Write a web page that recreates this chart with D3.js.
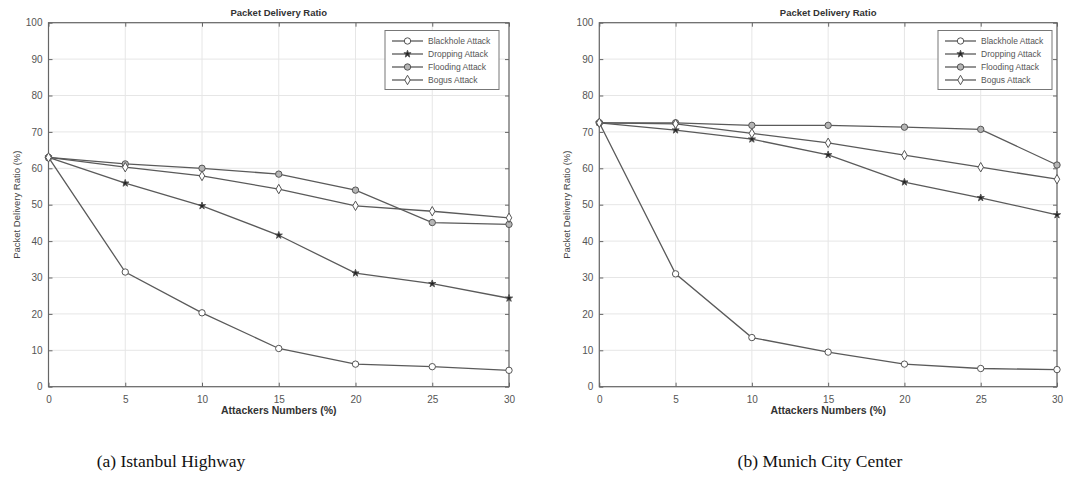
<!DOCTYPE html>
<html>
<head>
<meta charset="utf-8">
<script src="https://cdn.jsdelivr.net/npm/d3@7"></script>
<style>
  body { margin: 0; background: #fff; }
  svg { display: block; }
</style>
</head>
<body>
<svg id="chart" width="1065" height="485"></svg>
<script>
// ---- data ----
const attackers = [0, 5, 10, 15, 20, 25, 30];
const xTicks = [0, 5, 10, 15, 20, 25, 30];
const yTicks = [0, 10, 20, 30, 40, 50, 60, 70, 80, 90, 100];
const seriesNames = ["Blackhole Attack", "Dropping Attack", "Flooding Attack", "Bogus Attack"];

// (a) Istanbul Highway
const istanbulBlackhole = [63, 31.5, 20.3, 10.5, 6.2, 5.5, 4.5];
const istanbulDropping  = [63, 55.9, 49.7, 41.6, 31.2, 28.3, 24.3];
const istanbulFlooding  = [63, 61.2, 60.0, 58.4, 54.0, 45.1, 44.6];
const istanbulBogus     = [63, 60.3, 57.9, 54.3, 49.7, 48.2, 46.4];

// (b) Munich City Center
const munichBlackhole = [72.5, 31, 13.5, 9.5, 6.2, 5.0, 4.7];
const munichDropping  = [72.5, 70.5, 68.0, 63.7, 56.2, 51.9, 47.2];
const munichFlooding  = [72.5, 72.5, 71.8, 71.8, 71.3, 70.7, 60.9];
const munichBogus     = [72.5, 72.2, 69.6, 67.0, 63.6, 60.3, 57.0];

const chartTitle = "Packet Delivery Ratio";
const xLabel = "Attackers Numbers (%)";
const yLabel = "Packet Delivery Ratio (%)";
const captions = ["(a) Istanbul Highway", "(b) Munich City Center"];

// ---- drawing ----
const svg = d3.select("#chart");
const lineColor = "#5a5a5a";
const markerStyles = [
  { type: d3.symbolCircle, size: 32, fill: "#fff" },
  { type: d3.symbolStar, size: 16, fill: "#222" },
  { type: d3.symbolCircle, size: 32, fill: "#b5b5b5" },
  { type: d3.symbolDiamond, size: 26, fill: "#fff" }
];

function drawPanel(cfg) {
  const x = d3.scaleLinear().domain([0, 30]).range([cfg.x0, cfg.x1]);
  const y = d3.scaleLinear().domain([0, 100]).range([386.7, 22.7]);
  const g = svg.append("g");

  // grid
  g.append("g").selectAll("line").data(xTicks).join("line")
    .attr("x1", d => x(d)).attr("x2", d => x(d))
    .attr("y1", y(0)).attr("y2", y(100))
    .attr("stroke", "#e6e6e6").attr("stroke-width", 1);
  g.append("g").selectAll("line").data(yTicks).join("line")
    .attr("x1", x(0)).attr("x2", x(30))
    .attr("y1", d => y(d)).attr("y2", d => y(d))
    .attr("stroke", "#e6e6e6").attr("stroke-width", 1);

  // axes
  const axStyle = sel => {
    sel.select(".domain").remove();
    sel.selectAll("line").attr("stroke", "#666");
    sel.selectAll("text").attr("fill", "#555")
      .style("font-family", "Liberation Sans, Arial, sans-serif").style("font-size", "10px");
  };
  g.append("g").attr("transform", `translate(0,${y(0)})`)
    .call(d3.axisBottom(x).tickValues(xTicks).tickSize(-4).tickPadding(9))
    .call(axStyle);
  g.append("g").attr("transform", `translate(0,${y(100)})`)
    .call(d3.axisTop(x).tickValues(xTicks).tickSize(-4).tickFormat(""))
    .call(axStyle);
  g.append("g").attr("transform", `translate(${x(0)},0)`)
    .call(d3.axisLeft(y).tickValues(yTicks).tickSize(-4).tickPadding(6))
    .call(axStyle);
  g.append("g").attr("transform", `translate(${x(30)},0)`)
    .call(d3.axisRight(y).tickValues(yTicks).tickSize(-4).tickFormat(""))
    .call(axStyle);

  g.append("rect")
    .attr("x", x(0)).attr("y", y(100))
    .attr("width", x(30) - x(0)).attr("height", y(0) - y(100))
    .attr("fill", "none").attr("stroke", "#666").attr("stroke-width", 1.2);

  // lines
  const line = d3.line().x((d, i) => x(attackers[i])).y(d => y(d));
  cfg.series.forEach((vals, si) => {
    g.append("path").datum(vals)
      .attr("d", line).attr("fill", "none")
      .attr("stroke", lineColor).attr("stroke-width", 1.3);
  });
  cfg.series.forEach((vals, si) => {
    const m = markerStyles[si];
    g.append("g").selectAll("path").data(vals).join("path")
      .attr("transform", (d, i) => `translate(${x(attackers[i])},${y(d)})`)
      .attr("d", d3.symbol().type(m.type).size(m.size))
      .attr("fill", m.fill).attr("stroke", "#555").attr("stroke-width", 1);
  });

  // titles
  const cx = (x(0) + x(30)) / 2;
  g.append("text").attr("x", cx).attr("y", 16)
    .attr("text-anchor", "middle").attr("fill", "#333")
    .style("font-family", "Liberation Sans, Arial, sans-serif")
    .style("font-size", "9.5px").style("font-weight", "bold").text(chartTitle);
  g.append("text").attr("x", cx).attr("y", 414)
    .attr("text-anchor", "middle").attr("fill", "#333")
    .style("font-family", "Liberation Sans, Arial, sans-serif")
    .style("font-size", "10.5px").style("font-weight", "bold").text(xLabel);
  g.append("text")
    .attr("transform", `translate(${cfg.x0 - 29},${(y(0) + y(100)) / 2}) rotate(-90)`)
    .attr("text-anchor", "middle").attr("fill", "#444")
    .style("font-family", "Liberation Sans, Arial, sans-serif")
    .style("font-size", "9.5px").text(yLabel);

  // caption
  g.append("text").attr("x", cfg.capX).attr("y", 467)
    .attr("text-anchor", "middle").attr("fill", "#111")
    .style("font-family", "Liberation Serif, Times New Roman, serif")
    .style("font-size", "17.5px").text(cfg.caption);

  // legend
  const lg = g.append("g");
  lg.append("rect").attr("x", cfg.legX).attr("y", 30.5)
    .attr("width", 114).attr("height", 59)
    .attr("fill", "#fff").attr("stroke", "#777").attr("stroke-width", 1);
  seriesNames.forEach((name, si) => {
    const yy = 41 + si * 13;
    const m = markerStyles[si];
    lg.append("line").attr("x1", cfg.legX + 7).attr("x2", cfg.legX + 38)
      .attr("y1", yy).attr("y2", yy).attr("stroke", lineColor).attr("stroke-width", 1.3);
    lg.append("path").attr("transform", `translate(${cfg.legX + 22.5},${yy})`)
      .attr("d", d3.symbol().type(m.type).size(m.size))
      .attr("fill", m.fill).attr("stroke", "#555").attr("stroke-width", 1);
    lg.append("text").attr("x", cfg.legX + 43).attr("y", yy + 3)
      .attr("fill", "#555")
      .style("font-family", "Liberation Sans, Arial, sans-serif")
      .style("font-size", "8.5px").text(name);
  });
}

drawPanel({
  x0: 48.5, x1: 509,
  series: [istanbulBlackhole, istanbulDropping, istanbulFlooding, istanbulBogus],
  caption: captions[0], capX: 171, legX: 385
});
drawPanel({
  x0: 599.3, x1: 1057,
  series: [munichBlackhole, munichDropping, munichFlooding, munichBogus],
  caption: captions[1], capX: 820, legX: 938
});
</script>
</body>
</html>
